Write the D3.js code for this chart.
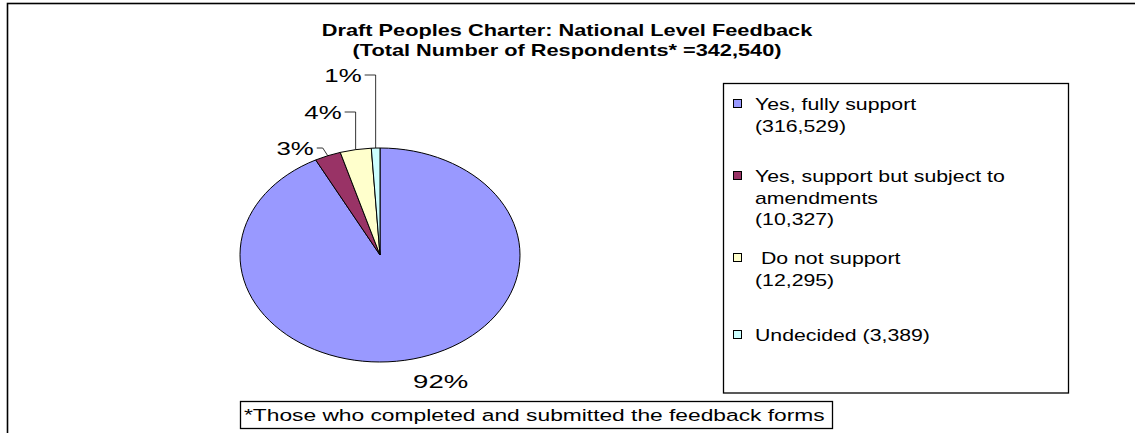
<!DOCTYPE html>
<html>
  <head>
    <meta charset="UTF-8" />
    <script src="https://d3js.org/d3.v7.min.js"></script>
    <title>Draft Peoples Charter: National Level Feedback</title>
    <style>
      body { margin: 0; background: #fff; }
      text { font-family: Arial, "Liberation Sans", sans-serif; white-space: pre; }
    </style>
  </head>
  <body>
    <div id="chart"></div>
    <script>
      // data
      var categories = ["Yes, fully support", "Yes, support but subject to amendments", "Do not support", "Undecided"];
      var counts = [316529, 10327, 12295, 3389];
      var legendLines = [
        ["Yes, fully support", "(316,529)"],
        ["Yes, support but subject to", "amendments", "(10,327)"],
        [" Do not support", "(12,295)"],
        ["Undecided (3,389)"]
      ];
      var colors = ["#9999FF", "#993366", "#FFFFCC", "#CCFFFF"];
      var titleLines = ["Draft Peoples Charter: National Level Feedback", "(Total Number of Respondents* =342,540)"];
      var footnote = "*Those who completed and submitted the feedback forms";

      var width = 1135, height = 433;

      var svg = d3.select("#chart").append("svg")
        .attr("width", width)
        .attr("height", height);

      // the original picture is stretched sideways, so text gets a horizontal scale
      function addText(g, x, y, str, size, sx, anchor, weight) {
        return g.append("text")
          .attr("transform", "translate(" + x + "," + y + ") scale(" + sx + ",1)")
          .attr("text-anchor", anchor || "start")
          .style("font-size", size + "px")
          .style("font-weight", weight || "normal")
          .text(str);
      }

      // chart border
      svg.append("rect")
        .attr("x", 7.5).attr("y", 3.5)
        .attr("width", width + 20).attr("height", height + 20)
        .attr("fill", "none").attr("stroke", "#000").attr("stroke-width", 1.6);

      // title
      titleLines.forEach(function(t, i) {
        addText(svg, 567, 36 + i * 20, t, 16, 1.36, "middle", "bold");
      });

      // pie
      var total = d3.sum(counts);
      var cx = 380, cy = 255, rx = 140, ry = 107;
      var pie = d3.pie().sort(null).value(function(d) { return d; });
      var arcs = pie(counts);
      var arc = d3.arc().innerRadius(0).outerRadius(ry);

      var pg = svg.append("g")
        .attr("transform", "translate(" + cx + "," + cy + ") scale(" + (rx / ry) + ",1)");
      pg.selectAll("path")
        .data(arcs)
        .enter().append("path")
        .attr("d", arc)
        .attr("fill", function(d, i) { return colors[i]; })
        .attr("stroke", "#000")
        .attr("stroke-width", 1)
        .attr("vector-effect", "non-scaling-stroke");

      var pct = d3.format(".0%");
      function edgePoint(a) {
        return [cx + rx * Math.sin(a), cy - ry * Math.cos(a)];
      }

      // labels
      var labelY = [null, 148, 112, 75];
      arcs.forEach(function(d, i) {
        var mid = (d.startAngle + d.endAngle) / 2;
        var p = edgePoint(mid);
        var txt = pct(d.value / total);
        if (i === 0) {
          addText(svg, p[0], p[1] + 29, txt, 19, 1.45, "start");
          return;
        }
        var ly = labelY[i];
        var tx = p[0] - 14;
        addText(svg, tx, ly + 7, txt, 19, 1.36, "end");
        var ex = (p[1] - ly > 20) ? p[0] : tx + 9;
        svg.append("polyline")
          .attr("points", [[tx + 3, ly], [ex, ly], p].map(function(q) { return q.join(","); }).join(" "))
          .attr("fill", "none")
          .attr("stroke", "#000")
          .attr("stroke-width", 0.8);
      });

      // legend
      var lg = svg.append("g");
      lg.append("rect")
        .attr("x", 723.5).attr("y", 83.5)
        .attr("width", 345).attr("height", 309.5)
        .attr("fill", "#fff").attr("stroke", "#000").attr("stroke-width", 1.3);
      var rowY = [110, 182, 264, 341];
      legendLines.forEach(function(lines, i) {
        lg.append("rect")
          .attr("x", 733.5).attr("y", rowY[i] - 10.5)
          .attr("width", 8).attr("height", 8)
          .attr("fill", colors[i])
          .attr("stroke", "#000").attr("stroke-width", 1);
        lines.forEach(function(s, j) {
          addText(lg, 755, rowY[i] + j * 21.5, s, 16, 1.33, "start");
        });
      });

      // footnote
      var fg = svg.append("g");
      fg.append("rect")
        .attr("x", 240.5).attr("y", 401.5)
        .attr("width", 592).attr("height", 27)
        .attr("fill", "#fff").attr("stroke", "#000").attr("stroke-width", 1.3);
      addText(fg, 244, 421, footnote, 17, 1.34, "start");
    </script>
  </body>
</html>
